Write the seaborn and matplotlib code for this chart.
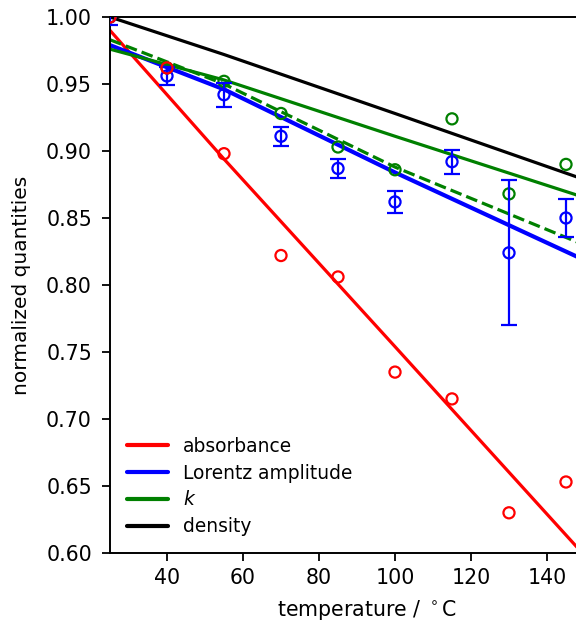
import numpy as np
import pandas as pd
import matplotlib
matplotlib.use("Agg")
import matplotlib.pyplot as plt
import seaborn as sns

# ---- measured data points ----
temperature = [25, 40, 55, 70, 85, 100, 115, 130, 145]
absorbance = [1.0, 0.962, 0.898, 0.822, 0.806, 0.735, 0.715, 0.630, 0.653]
lorentz_amp = [1.0, 0.956, 0.942, 0.911, 0.887, 0.862, 0.892, 0.824, 0.850]
lorentz_err = [0.006, 0.007, 0.009, 0.007, 0.007, 0.008, 0.009, 0.054, 0.014]
k_values = [1.0, 0.962, 0.952, 0.928, 0.903, 0.886, 0.924, 0.868, 0.890]

# ---- fitted / model curves ----
T_fit = [25, 55, 100, 148, 160]
absorbance_fit = [0.990, 0.894, 0.754, 0.604, 0.566]
lorentz_fit = [0.979, 0.946, 0.884, 0.821, 0.805]
k_fit = [0.976, 0.953, 0.911, 0.867, 0.856]
k_fit_dashed = [0.983, 0.950, 0.888, 0.832, 0.818]
density_fit = [1.000, 0.972, 0.928, 0.8805, 0.869]

x_ticks = [40, 60, 80, 100, 120, 140]
y_ticks = [0.60, 0.65, 0.70, 0.75, 0.80, 0.85, 0.90, 0.95, 1.00]

sns.set_style("ticks", {"axes.edgecolor": "black", "text.color": "black",
                        "axes.labelcolor": "black", "xtick.color": "black",
                        "ytick.color": "black"})
plt.rcParams["font.family"] = ["DejaVu Sans"]
plt.rcParams["mathtext.fontset"] = "dejavusans"

RED, BLUE, GREEN, BLACK = "#ff0000", "#0000ff", "#008000", "#000000"

fig = plt.figure(figsize=(5.76, 6.23), dpi=100)
ax = fig.add_axes([110 / 576, 70 / 623, 513 / 576, 536 / 623])

lw = 2.3
sns.lineplot(x=T_fit, y=absorbance_fit, color=RED, lw=lw, ax=ax, label="absorbance")
sns.lineplot(x=T_fit, y=lorentz_fit, color=BLUE, lw=3.0, ax=ax, label="Lorentz amplitude")
sns.lineplot(x=T_fit, y=k_fit, color=GREEN, lw=lw, ax=ax, label="$k$")
sns.lineplot(x=T_fit, y=density_fit, color=BLACK, lw=lw, ax=ax, label="density")
sns.lineplot(x=T_fit, y=k_fit_dashed, color=GREEN, lw=lw, ls="--", ax=ax)

ms = 64
sns.scatterplot(x=temperature, y=k_values, marker="o", s=ms, facecolor="none",
                edgecolor=GREEN, linewidth=1.6, ax=ax, zorder=3)
ax.errorbar(temperature, lorentz_amp, yerr=lorentz_err, fmt="none", ecolor=BLUE,
            elinewidth=1.6, capsize=6, capthick=1.6, zorder=4)
sns.scatterplot(x=temperature, y=lorentz_amp, marker="o", s=ms, facecolor="none",
                edgecolor=BLUE, linewidth=1.6, ax=ax, zorder=4)
sns.scatterplot(x=temperature, y=absorbance, marker="o", s=ms, facecolor="none",
                edgecolor=RED, linewidth=1.6, ax=ax, zorder=5)

ax.set_xlim(25, 160)
ax.set_ylim(0.60, 1.00)
ax.set_xticks(x_ticks)
ax.set_yticks(y_ticks)
ax.set_yticklabels([f"{v:.2f}" for v in y_ticks])
ax.tick_params(axis="x", labelsize=14.8, length=6, width=1.3, direction="out", pad=5)
ax.tick_params(axis="y", labelsize=14.8, length=6, width=1.3, direction="out", pad=7)
for sp in ax.spines.values():
    sp.set_linewidth(1.4)
    sp.set_visible(True)

ax.set_xlabel(r"temperature / $^\circ$C", fontsize=14.8, labelpad=7)
ax.set_ylabel("normalized quantities", fontsize=14.5, labelpad=11)

leg = ax.legend(loc="lower left", frameon=False, fontsize=13.4,
                handlelength=2.2, labelspacing=0.42)
for line in leg.get_lines():
    line.set_linewidth(3.0)

fig.savefig("out.png", dpi=100)
